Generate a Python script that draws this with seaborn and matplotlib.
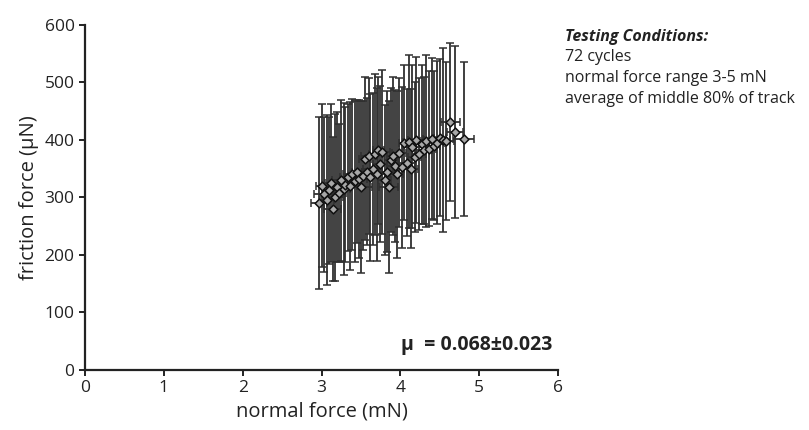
import matplotlib
matplotlib.use("Agg")
import matplotlib.pyplot as plt
import seaborn as sns
import pandas as pd

# mean normal force (mN) per cycle
normal_force = [2.97, 3.01, 3.03, 3.07, 3.10, 3.14, 3.12, 3.17, 3.20, 3.22, 3.25, 3.28,
                3.30, 3.33, 3.36, 3.38, 3.42, 3.45, 3.48, 3.50, 3.52, 3.55, 3.58, 3.60,
                3.62, 3.65, 3.68, 3.70, 3.72, 3.74, 3.76, 3.80, 3.83, 3.85, 3.88, 3.90,
                3.93, 3.95, 3.98, 4.02, 4.05, 4.08, 4.11, 4.13, 4.15, 4.18, 4.20, 4.24,
                4.27, 4.30, 4.33, 4.36, 4.40, 4.43, 4.46, 4.50, 4.54, 4.58, 4.63, 4.69, 4.80]
# mean friction force (uN)
friction_force = [290, 320, 305, 295, 312, 280, 325, 300, 318, 308, 330, 315,
                  322, 335, 320, 340, 328, 345, 332, 318, 338, 367, 345, 372,
                  335, 350, 375, 340, 382, 358, 379, 330, 345, 318, 365, 372,
                  355, 340, 378, 352, 395, 360, 397, 350, 388, 370, 400, 376,
                  392, 382, 398, 385, 402, 390, 395, 404, 400, 398, 431, 414, 402]
friction_err = [150, 142, 135, 148, 128, 125, 138, 145, 130, 120, 140, 150,
                135, 128, 146, 132, 140, 125, 138, 150, 130, 142, 128, 135,
                145, 132, 140, 150, 128, 136, 142, 130, 140, 150, 126, 138,
                132, 145, 130, 140, 135, 128, 150, 138, 142, 130, 145, 132,
                138, 128, 150, 135, 140, 130, 142, 136, 160, 138, 137, 150, 134]
normal_err = [0.10, 0.08, 0.12, 0.09, 0.07, 0.11, 0.08, 0.10, 0.06, 0.09, 0.12, 0.08,
              0.07, 0.10, 0.09, 0.11, 0.08, 0.06, 0.10, 0.14, 0.09, 0.08, 0.07, 0.10,
              0.09, 0.12, 0.08, 0.10, 0.07, 0.09, 0.11, 0.08, 0.10, 0.12, 0.09, 0.07,
              0.10, 0.08, 0.09, 0.11, 0.07, 0.10, 0.08, 0.09, 0.12, 0.08, 0.10, 0.09,
              0.07, 0.10, 0.08, 0.09, 0.11, 0.07, 0.10, 0.08, 0.09, 0.10, 0.12, 0.10, 0.13]

conditions = ["72 cycles", "normal force range 3-5 mN", "average of middle 80% of track"]

df = pd.DataFrame({"normal": normal_force, "friction": friction_force,
                   "ferr": friction_err, "nerr": normal_err})

sns.set_style("ticks")
plt.rcParams["font.family"] = ["Open Sans", "DejaVu Sans"]

fig = plt.figure(figsize=(8.09, 4.30), dpi=100)
ax = fig.add_axes([0.105, 0.14, 0.585, 0.802])

ax.errorbar(df["normal"], df["friction"], yerr=df["ferr"], xerr=df["nerr"],
            fmt="none", ecolor="#303030", elinewidth=1.3, capsize=3, capthick=1.1,
            zorder=2)
sns.scatterplot(data=df, x="normal", y="friction", ax=ax, marker="D", s=20,
                color="#a8a8a8", edgecolor="#111111", linewidth=1.1, zorder=3)

ax.set_xlim(0, 6)
ax.set_ylim(0, 600)
ax.set_xticks(range(0, 7))
ax.set_yticks(range(0, 601, 100))
ax.tick_params(labelsize=12.5, length=4, width=1.4, colors="#222222")
for s in ["left", "bottom"]:
    ax.spines[s].set_linewidth(1.6)
    ax.spines[s].set_color("#222222")
sns.despine(ax=ax)
ax.set_xlabel("normal force (mN)", fontsize=14.5, color="#222222")
ax.set_ylabel("friction force (µN)", fontsize=14.5, color="#222222")

ax.text(5.92, 35, "µ  = 0.068±0.023", ha="right", va="baseline",
        fontsize=14, fontweight="bold", color="#222222")

fig.text(0.698, 0.905, "Testing Conditions:", fontsize=11.5, fontweight="bold",
         fontstyle="italic", color="#222222")
for k, line in enumerate(conditions):
    fig.text(0.698, 0.857 - k * 0.048, line, fontsize=11.5, color="#222222")

fig.savefig("out.png", dpi=100)
